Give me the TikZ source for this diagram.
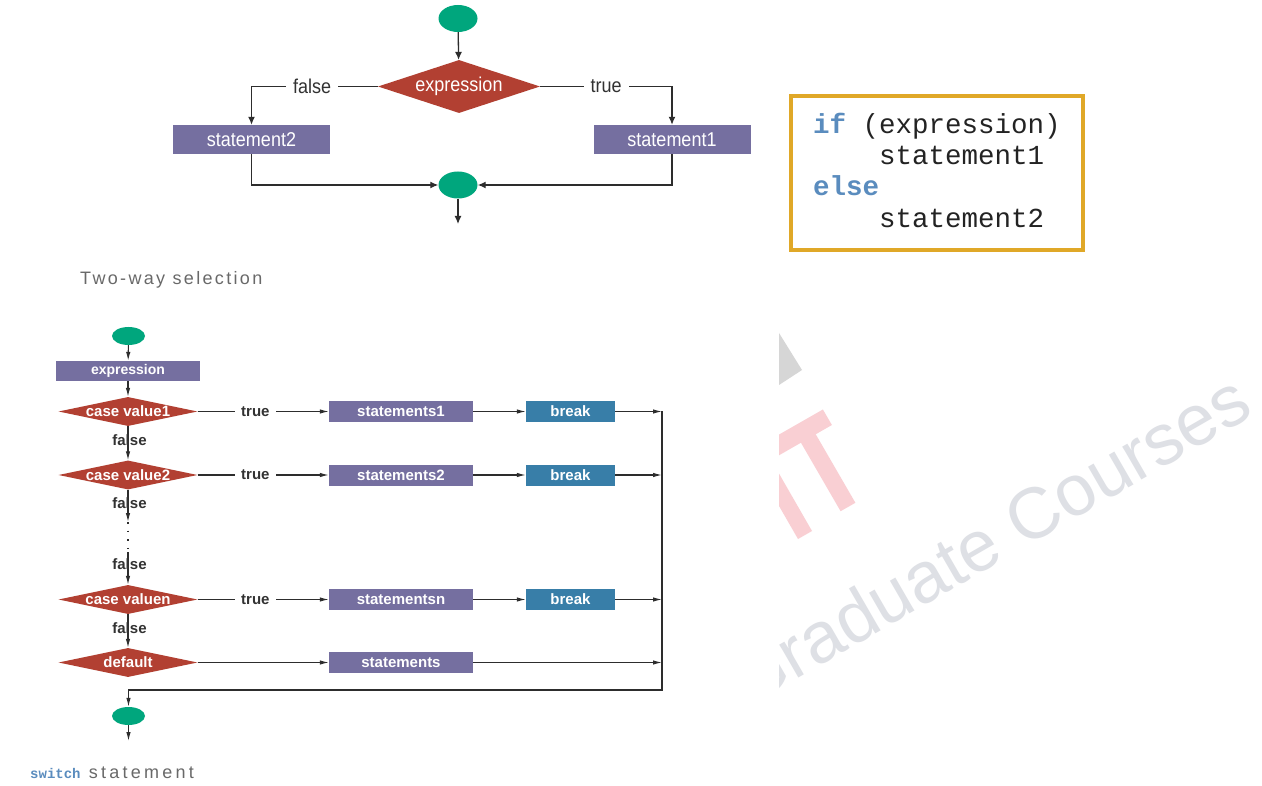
\documentclass[tikz,border=0pt]{standalone}
\usepackage{fontspec}
\setmainfont{Liberation Sans}
\newfontfamily\cnd[FakeStretch=0.9]{Liberation Sans}
\newfontfamily\spc[LetterSpace=13]{Liberation Sans}
\newfontfamily\spcb[LetterSpace=18]{Liberation Sans}
\newfontfamily\mono{Liberation Mono}
\usetikzlibrary{shapes.geometric,arrows.meta}
\definecolor{tgreen}{RGB}{0,166,125}
\definecolor{ppurple}{RGB}{117,111,160}
\definecolor{dred}{RGB}{178,64,50}
\definecolor{bblue}{RGB}{56,126,168}
\definecolor{gold}{RGB}{224,168,40}
\definecolor{linec}{RGB}{45,45,45}
\definecolor{lblc}{RGB}{50,50,50}
\definecolor{kw}{RGB}{90,140,190}
\definecolor{codec}{RGB}{35,35,35}
\definecolor{capgray}{RGB}{105,105,105}
\definecolor{wmgray}{RGB}{222,224,229}
\definecolor{wmpink}{RGB}{249,207,211}
\definecolor{wmtri}{RGB}{214,214,214}
\begin{document}
\begin{tikzpicture}[x=1pt,y=-1pt,
  term/.style={ellipse, fill=tgreen, inner sep=0},
  proc/.style={rectangle, fill=ppurple, text=white, inner sep=0},
  brk/.style={rectangle, fill=bblue, text=white, inner sep=0},
  dec/.style={diamond, fill=dred, inner sep=0},
  declblT/.style={label={[text=white, inner sep=0, font=\cnd\fontsize{20}{24}\selectfont]center:#1}},
  declblB/.style={label={[text=white, inner sep=0, font=\bfseries\fontsize{15}{18}\selectfont]center:#1}},
  topfont/.style={font=\cnd\fontsize{20}{24}\selectfont},
  botfont/.style={font=\bfseries\fontsize{15}{18}\selectfont},
  lineT/.style={draw=linec, line width=1.3},
  lineB/.style={draw=linec, line width=1.1},
  arT/.style={-{Latex[length=8,width=7]}},
  arB/.style={-{Latex[length=9,width=4.5]}},
  lblT/.style={fill=white, text=lblc, inner xsep=7, inner ysep=2, font=\cnd\fontsize{20}{24}\selectfont},
  lblB/.style={fill=white, text=lblc, inner xsep=6, inner ysep=1, font=\bfseries\fontsize{15}{18}\selectfont},
  lblV/.style={text=lblc, inner sep=0, font=\bfseries\fontsize{15}{18}\selectfont},
  codetxt/.style={inner sep=0, anchor=base west, text=codec, font=\mono\fontsize{27.5}{30}\selectfont}
]
\useasboundingbox (0,0) rectangle (1262,786);
\fill[white] (0,0) rectangle (1262,786);

% ---------- watermark (partly hidden) ----------
\begin{scope}
\clip (779,320) rectangle (1262,786);
\fill[wmtri] (779,333) -- (802,370) -- (779,385) -- cycle;
\fill[wmpink] (812,531) -- (798,539) -- (748,452) -- (762,444) -- cycle;
\fill[wmpink] (855.4,502.8) -- (840.6,511.2) -- (796.6,435.2) -- (811.4,426.8) -- cycle;
\fill[wmpink] (831.9,425) -- (822.9,409.5) -- (752,450) -- (761,465.6) -- cycle;
\node[anchor=base east, rotate=30, inner sep=0, text=wmgray,
      font=\fontsize{72}{80}\selectfont] (wm) at (1256,414) {Graduate Courses};
\end{scope}

% ---------- two-way selection ----------
\node[term, minimum width=39, minimum height=27] (ts) at (458,18.5) {};
\node[dec, minimum width=162, minimum height=53, declblT={expression}] (te) at (459,86.5) {};
\node[proc, topfont, minimum width=157, minimum height=29] (ts2) at (251.5,139.5) {statement2};
\node[proc, topfont, minimum width=157, minimum height=29] (ts1) at (672,139.5) {statement1};
\node[term, minimum width=39, minimum height=27] (tm) at (458,185) {};
\coordinate (tend) at (458,224);

\draw[lineT, arT] (ts) -- (te);
\draw[lineT, arT] (te.west) -| node[pos=0.26, lblT] (lf) {false} (ts2.north);
\draw[lineT, arT] (te.east) -| node[pos=0.25, lblT] (lt) {true} (ts1.north);
\draw[lineT, arT] (ts2.south) |- (tm.west);
\draw[lineT, arT] (ts1.south) |- (tm.east);
\draw[lineT, arT] (tm) -- (tend);

% code box
\node[draw=gold, line width=4, minimum width=292, minimum height=154, inner sep=0] (code) at (937,173) {};
\node[codetxt] (cl1) at (813,134) {{\bfseries\color{kw}if} (expression)};
\node[codetxt] (cl2) at (879,165) {statement1};
\node[codetxt] (cl3) at (813,196) {{\bfseries\color{kw}else}};
\node[codetxt] (cl4) at (879,228) {statement2};

\node[anchor=base west, inner sep=0, text=capgray, font=\spc\fontsize{18}{20}\selectfont] (cap1) at (80,285) {Two-way selection};

% ---------- switch ----------
\node[term, minimum width=33, minimum height=18] (bs) at (128.5,336) {};
\node[proc, font=\fontsize{14}{16}\selectfont\bfseries, minimum width=144, minimum height=20] (bx) at (128,371) {expression};
\node[dec, minimum width=139, minimum height=29, declblB={case value1}] (d1) at (128,411.5) {};
\node[dec, minimum width=139, minimum height=29, declblB={case value2}] (d2) at (128,475) {};
\node[dec, minimum width=139, minimum height=29, declblB={case valuen}] (dn) at (128,599.5) {};
\node[dec, minimum width=139, minimum height=29, declblB={default}] (dd) at (128,662.5) {};
\node[term, minimum width=33, minimum height=18] (be) at (128.5,716) {};
\coordinate (bend) at (128.5,741);
\coordinate (c1) at (128,522);
\coordinate (c2) at (128,552);

\node[proc, botfont, minimum width=144, minimum height=21] (s1) at (401,411.5) {statements1};
\node[proc, botfont, minimum width=144, minimum height=21] (s2) at (401,475) {statements2};
\node[proc, botfont, minimum width=144, minimum height=21] (sn) at (401,599.5) {statementsn};
\node[proc, botfont, minimum width=144, minimum height=21] (sd) at (401,662.5) {statements};
\node[brk, botfont, minimum width=89, minimum height=21] (b1) at (570.5,411.5) {break};
\node[brk, botfont, minimum width=89, minimum height=21] (b2) at (570.5,475) {break};
\node[brk, botfont, minimum width=89, minimum height=21] (bn) at (570.5,599.5) {break};
\coordinate (m1) at (662,411.5);
\coordinate (m2) at (662,475);
\coordinate (mn) at (662,599.5);
\coordinate (md) at (662,662.5);
\coordinate (mb) at (662,690);

\draw[lineB, arB] (bs) -- (bx);
\draw[lineB, arB] (bx) -- (d1);
\draw[lineB, arB] (d1.south) -- node[pos=0.42, lblV, xshift=1.5] (f1) {false} (d2.north);
\draw[lineB, arB] (d2.south) -- node[pos=0.42, lblV, xshift=1.5] (f2) {false} (c1);
\draw[lineB, dash pattern=on 1.6 off 7] (c1) -- (c2);
\draw[lineB, arB] (c2) -- node[pos=0.38, lblV, xshift=1.5] (f3) {false} (dn.north);
\draw[lineB, arB] (dn.south) -- node[pos=0.42, lblV, xshift=1.5] (f4) {false} (dd.north);

\draw[lineB, arB] (d1.east) -- node[pos=0.44, lblB] (t1) {true} (s1.west);
\draw[lineB, arB] (d2.east) -- node[pos=0.44, lblB] (t2) {true} (s2.west);
\draw[lineB, arB] (dn.east) -- node[pos=0.44, lblB] (t3) {true} (sn.west);
\draw[lineB, arB] (dd.east) -- (sd.west);

\draw[lineB, arB] (s1) -- (b1);
\draw[lineB, arB] (s2) -- (b2);
\draw[lineB, arB] (sn) -- (bn);
\draw[lineB, arB] (b1) -- (m1);
\draw[lineB, arB] (b2) -- (m2);
\draw[lineB, arB] (bn) -- (mn);
\draw[lineB, arB] (sd) -- (md);
\draw[lineB, arB] (m1) -- (mb) -| (be.north);
\draw[lineB, arB] (be) -- (bend);

\node[anchor=base west, inner sep=0, text=capgray, font=\spcb\fontsize{18}{20}\selectfont] (cap2) at (30,778)
  {{\mono\bfseries\color{kw}\fontsize{14}{16}\selectfont switch} statement};
\end{tikzpicture}
\end{document}
